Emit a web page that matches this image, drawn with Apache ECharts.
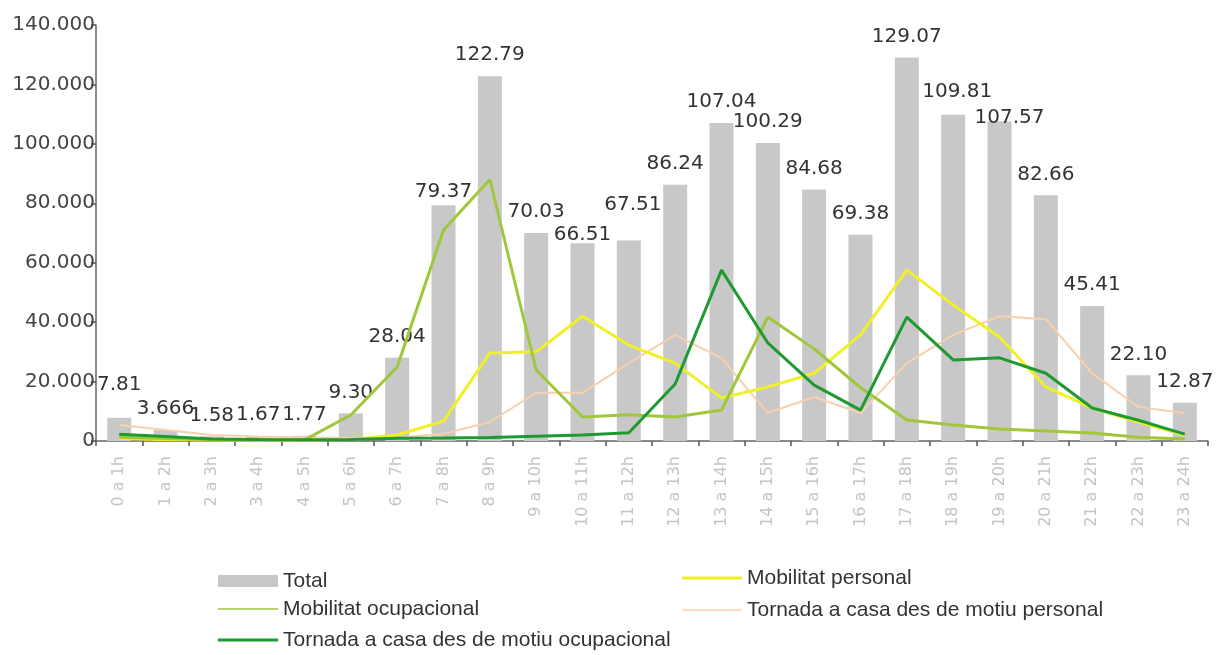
<!DOCTYPE html>
<html>
<head>
<meta charset="utf-8">
<script src="https://cdn.jsdelivr.net/npm/echarts@6/dist/echarts.min.js"></script>
<style>
html,body{margin:0;padding:0;background:#fff;}
#chart{width:1221px;height:655px;}
</style>
</head>
<body>
<div id="chart"></div>
<script>
var categories = ["0 a 1h","1 a 2h","2 a 3h","3 a 4h","4 a 5h","5 a 6h","6 a 7h","7 a 8h","8 a 9h","9 a 10h","10 a 11h","11 a 12h","12 a 13h","13 a 14h","14 a 15h","15 a 16h","16 a 17h","17 a 18h","18 a 19h","19 a 20h","20 a 21h","21 a 22h","22 a 23h","23 a 24h"];
var totalValues = [7810,3666,1580,1670,1770,9303,28042,79379,122790,70039,66510,67510,86242,107040,100290,84680,69384,129070,109810,107570,82665,45410,22100,12870];
var totalLabels = ["7.81","3.666","1.58","1.67","1.77","9.30","28.04","79.37","122.79","70.03","66.51","67.51","86.24","107.04","100.29","84.68","69.38","129.07","109.81","107.57","82.66","45.41","22.10","12.87"];
var mobilitatPersonal = [800,500,300,300,300,500,2000,6700,29600,30000,42000,32300,26200,14500,18200,22800,35700,57500,45800,35000,18200,11100,6400,2000];
var mobilitatOcupacional = [1300,800,400,300,400,8750,24900,71000,88000,23900,8100,8800,8100,10400,41700,31000,18000,7100,5400,4000,3400,2700,1300,700];
var tornadaPersonal = [5400,3700,2000,1500,1200,1000,1000,2400,6400,16200,16200,26200,35700,27900,9400,14800,9400,26200,35700,42000,41000,22800,11400,9400];
var tornadaOcupacional = [2300,1500,700,500,400,500,900,1000,1200,1600,2000,2800,19200,57500,33000,18800,10400,41700,27300,28000,22800,11100,7000,2300];

var names = {
  total: "Total",
  mp: "Mobilitat personal",
  mo: "Mobilitat ocupacional",
  tp: "Tornada a casa des de motiu personal",
  to: "Tornada a casa des de motiu ocupacional"
};
var colors = {total:"#c8c8c8", mp:"#f0f028", mo:"#a0c63a", tp:"#f8d0ac", to:"#1f9a30"};

function fmtY(v){
  if (v === 0) return "0";
  var s = String(v);
  return s.slice(0, s.length-3) + "." + s.slice(s.length-3);
}

function legendRow(name, left, centerY, iconH){
  return {
    show: true,
    data: [{name: name, icon: 'rect'}],
    left: left,
    top: centerY - 12,
    itemWidth: 60,
    itemHeight: iconH,
    itemGap: 0,
    itemTextGap: 6,
    padding: 0,
    selectedMode: false,
    textStyle: {fontFamily: "Liberation Sans", fontSize: 21, color: "#333", lineHeight: 24}
  };
}

// label placement tweaks (the original software placed a few labels irregularly)
var labelNudge = {0:[0,-12], 7:[0,8], 10:[0,12], 11:[4,-15], 18:[4,-2], 19:[10,17]};
var totalData = totalValues.map(function(v, i){
  var item = {value: v};
  if (labelNudge[i]) item.label = {offset: labelNudge[i]};
  return item;
});

var chart = echarts.init(document.getElementById('chart'), null, {renderer:'canvas'});
chart.setOption({
  animation: false,
  backgroundColor: "#fff",
  grid: {left: 96, right: 13, top: 25, bottom: 214, containLabel: false},
  legend: [
    legendRow(names.total, 218, 581, 12),
    legendRow(names.mo, 218, 609, 1.5),
    legendRow(names.to, 218, 640, 3),
    legendRow(names.mp, 682, 578, 3),
    legendRow(names.tp, 682, 610, 1.5)
  ],
  xAxis: {
    type: 'category',
    data: categories,
    boundaryGap: true,
    axisLine: {lineStyle: {color: "#666", width: 1.5}},
    axisTick: {show: true, length: 5, lineStyle: {color: "#555", width: 1.5}},
    axisLabel: {interval: 0, rotate: 90, margin: 15, fontFamily: "DejaVu Sans", fontSize: 16, color: "#c4c4c4"},
    splitLine: {show: false}
  },
  yAxis: {
    type: 'value',
    min: 0, max: 140000, interval: 20000,
    axisLine: {show: true, lineStyle: {color: "#666", width: 1.5}},
    axisTick: {show: true, length: 5, lineStyle: {color: "#555", width: 1.5}},
    axisLabel: {margin: 1, fontFamily: "DejaVu Sans", fontSize: 20, color: "#444", formatter: fmtY},
    splitLine: {show: false}
  },
  series: [
    {
      name: names.total, type: 'bar', data: totalData, barWidth: 24,
      itemStyle: {color: colors.total},
      label: {
        show: true, position: 'top', distance: 11,
        fontFamily: "DejaVu Sans", fontSize: 20, color: "#333",
        formatter: function(p){ return totalLabels[p.dataIndex]; }
      },
      z: 2
    },
    {name: names.tp, type: 'line', data: tornadaPersonal, symbol: 'none', lineStyle: {color: colors.tp, width: 2}, itemStyle: {color: colors.tp}, z: 3},
    {name: names.mp, type: 'line', data: mobilitatPersonal, symbol: 'none', lineStyle: {color: colors.mp, width: 3}, itemStyle: {color: colors.mp}, z: 3},
    {name: names.mo, type: 'line', data: mobilitatOcupacional, symbol: 'none', lineStyle: {color: colors.mo, width: 3}, itemStyle: {color: colors.mo}, z: 3},
    {name: names.to, type: 'line', data: tornadaOcupacional, symbol: 'none', lineStyle: {color: colors.to, width: 3}, itemStyle: {color: colors.to}, z: 3}
  ]
});
</script>
</body>
</html>
